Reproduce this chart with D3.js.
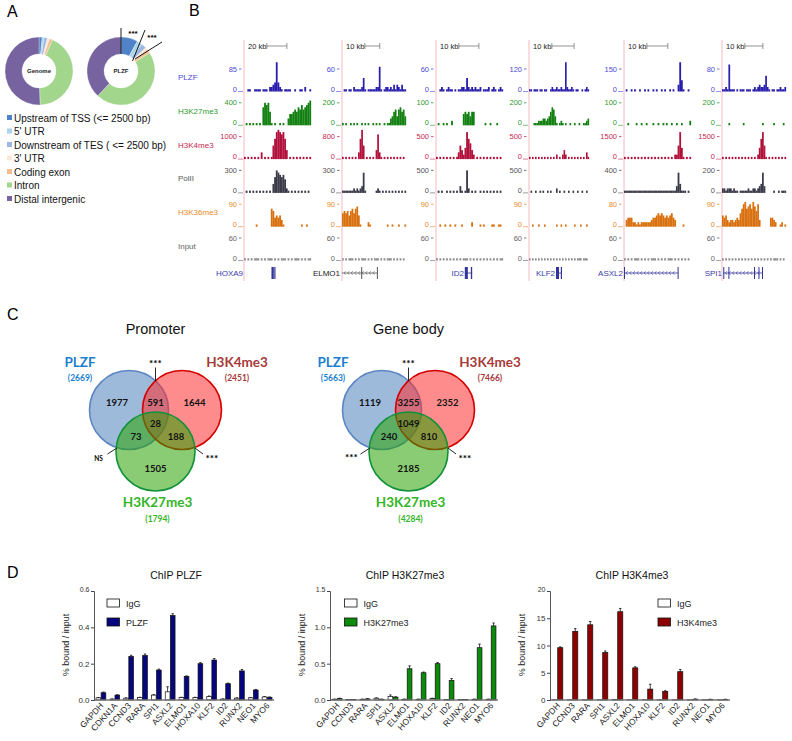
<!DOCTYPE html>
<html><head><meta charset="utf-8">
<script src="https://cdn.jsdelivr.net/npm/d3@7/dist/d3.min.js"></script>
<style>
html,body{margin:0;padding:0;background:#fff;}
svg{display:block;}
</style></head>
<body>
<svg id="fig" width="792" height="741"></svg>
<script>
// ======================= DATA =======================
// Panel A : genomic annotation (% of regions)
const annotCategories = ["Upstream of  TSS (<= 2500 bp)", "5' UTR", "Downstream of TES ( <= 2500 bp)", "3' UTR", "Coding exon", "Intron", "Distal intergenic"];
const genomeShares = [1.5, 1, 1.5, 1, 1.5, 43, 50.5];
const plzfShares   = [8, 2.5, 2.5, 1, 2, 46, 38];

// Panel B : genome browser tracks
const trackNames = ["PLZF", "H3K27me3", "H3K4me3", "PolII", "H3K36me3", "Input"];
const locusGenes = ["HOXA9", "ELMO1", "ID2", "KLF2", "ASXL2", "SPI1"];
const scaleBarKb = [20, 10, 10, 10, 10, 10];
const windowKb   = [67, 43, 33.5, 27, 32, 35.5];
const axisMax_HOXA9 = [85, 400, 1000, 300, 90, 60];
const axisMax_ELMO1 = [60, 200, 800, 300, 90, 60];
const axisMax_ID2   = [60, 100, 500, 500, 90, 60];
const axisMax_KLF2  = [120, 200, 500, 500, 90, 60];
const axisMax_ASXL2 = [150, 100, 1500, 400, 80, 60];
const axisMax_SPI1  = [80, 200, 1500, 200, 90, 60];
// 40 bins per locus; each hex digit = tenths of that track's axis maximum
const signal_HOXA9 = [
  "0011001111011102234D42101111001001102001",
  "010101010108A9A61010010100355676879789AB",
  "1010101010301010169CDCBC9401010101010101",
  "0101010101010101047A98786210101010101010",
  "0000000100000000874545310000000000100100",
  "1010101110101011101010111010101110101011"];
const signal_ELMO1 = [
  "01101102111126101111122B101221213132131 1".replace(/ /g,""),
  "1010010101001010100101010010113467478674",
  "101010101039D601010104B31010101010101010",
  "1111111212123910000001210101010101010101",
  "6767578689510000210000000000100100010001",
  "1010111010101110101011101010111010101010"];
const signal_ID2 = [
  "0012101211010112216212121120111201210121",
  "0100101002000000565646600000010010001000",
  "101010101010136425C974201010101010101010",
  "010100101010103101A201010010101010101010",
  "0010010010010001000002000010100001100110",
  "1010101010101010111010101010101010101011"];
const signal_KLF2 = [
  "110111011011001211211211D211210110010121",
  "0001112223323468741012101001001001001123",
  "1010101010101010102010242010101010101031",
  "0100100101001010002010010010010010010010",
  "0010001000100000001001001000001000100010",
  "1010101010101010101010101010101011101110"];
const signal_ASXL2 = [
  "010010100100101001010010100101003D510010",
  "0010000100100100010010010100100100100002",
  "101010101010101010101010101010226C510101".slice(0,40),
  "1111111111111111111111111111111394111010",
  "0344422121222222344565654545643000010000",
  "1010101110101010111010101011101010101010"];
const signal_SPI1 = [
  "1121C11101011101110121232237210110112112",
  "0000100000000100000000000100000010000010",
  "1010101010101010101010259C61010101010101",
  "2212221211011111211221234930000010010111",
  "5453233234368AB89A8B97A30000004432001201",
  "1010101010101010101010101010101011101010"];
// gene models: fractions of the locus window
const geneModels = [
  {span: null,          arrows: false, blocks: [[0.41, 0.445], [0.452, 0.47]]},
  {span: [0, 0.56],     arrows: true,  blocks: [[0.30, 0.315], [0.545, 0.56]]},
  {span: [0.43, 0.54],  arrows: false, blocks: [[0.43, 0.475], [0.52, 0.54]]},
  {span: [0.45, 0.55],  arrows: false, blocks: [[0.45, 0.50], [0.53, 0.55]]},
  {span: [0, 0.81],     arrows: true,  blocks: [[0, 0.012], [0.80, 0.812]]},
  {span: [0.02, 0.64],  arrows: true,  blocks: [[0.02, 0.035], [0.10, 0.115], [0.50, 0.515], [0.57, 0.585], [0.625, 0.64]]}];

// Panel C : Venn diagrams  (order: A only, AB, B only, ABC, AC, BC, C only)
const vennSets = ["PLZF", "H3K4me3", "H3K27me3"];
const promoterTotals = [2669, 2451, 1794];
const promoterCounts = [1977, 591, 1644, 28, 73, 188, 1505];
const promoterSig    = ["***", "NS", "***"];      // AB, AC, BC
const geneBodyTotals = [5663, 7466, 4284];
const geneBodyCounts = [1119, 3255, 2352, 1049, 240, 810, 2185];
const geneBodySig    = ["***", "***", "***"];

// Panel D : ChIP-qPCR (% bound / input)
const genesPLZF = ["GAPDH","CDKN1A","CCND3","RARA","SPI1","ASXL2","ELMO1","HOXA10","KLF2","ID2","RUNX2","NEO1","MYO6"];
const genesHist = ["GAPDH","CCND3","RARA","SPI1","ASXL2","ELMO1","HOXA10","KLF2","ID2","RUNX2","NEO1","MYO6"];
const plzf_IgG     = [0.012,0.005,0.010,0.013,0.027,0.045,0.013,0.013,0.020,0.005,0.010,0.012,0.017];
const plzf_IgGErr  = [0.002,0.001,0.002,0.002,0.003,0.028,0.002,0.002,0.002,0.001,0.002,0.002,0.002];
const plzf_ChIP    = [0.040,0.027,0.240,0.245,0.165,0.465,0.130,0.200,0.220,0.090,0.160,0.055,0.015];
const plzf_ChIPErr = [0.004,0.002,0.006,0.008,0.005,0.010,0.003,0.006,0.008,0.003,0.008,0.003,0.002];
const k27_IgG      = [0.010,0.005,0.010,0.025,0.050,0.010,0.010,0.020,0.005,0.005,0.010,0.010];
const k27_IgGErr   = [0.003,0.002,0.003,0.005,0.020,0.003,0.003,0.005,0.002,0.002,0.003,0.002];
const k27_ChIP     = [0.020,0.005,0.015,0.010,0.040,0.430,0.375,0.500,0.270,0.005,0.720,1.020];
const k27_ChIPErr  = [0.005,0.002,0.005,0.003,0.005,0.040,0.010,0.015,0.025,0.002,0.050,0.040];
const k4_IgG       = [0.05,0.05,0.05,0.05,0.10,0.05,0.05,0.05,0.05,0.05,0.05,0.05];
const k4_IgGErr    = [0,0,0,0,0,0,0,0,0,0,0,0];
const k4_ChIP      = [9.6,12.6,13.8,8.7,16.2,5.9,2.0,1.6,5.2,0.15,0.10,0.10];
const k4_ChIPErr   = [0.15,0.5,0.6,0.3,0.6,0.2,0.9,0.1,0.4,0.05,0.05,0.05];

// ======================= DRAWING =======================
const svg = d3.select("#fig");
const SANS = '"Liberation Sans", Arial, Helvetica, sans-serif';
const CAL = 'Lato, "Open Sans", sans-serif';

function txt(g, s, x, y, o = {}) {
  const t = g.append("text").attr("x", x).attr("y", y).text(s)
    .attr("font-family", o.family || SANS).attr("font-size", o.size || 10)
    .attr("fill", o.fill || "#000").attr("text-anchor", o.anchor || "start");
  if (o.weight) t.attr("font-weight", o.weight);
  if (o.dy) t.attr("dy", o.dy);
  if (o.rotate !== undefined) t.attr("transform", `rotate(${o.rotate},${x},${y})`);
  return t;
}

// panel letters
[["A", 7, 17], ["B", 189, 16], ["C", 7, 320], ["D", 7, 578]].forEach(([l, x, y]) =>
  txt(svg, l, x, y, {size: 16}));

// ---------- Panel A ----------
const annotColors = ["#4f82c6", "#a9d4ea", "#9db8e0", "#fbe6d9", "#f6bd93", "#a3d68d", "#76639f"];
const pie = d3.pie().sort(null).value(d => d).startAngle(0).endAngle(2 * Math.PI);
const arc = d3.arc().innerRadius(17).outerRadius(34);
[[genomeShares, "Genome", 39], [plzfShares, "PLZF", 121]].forEach(([vals, lab, cx]) => {
  const g = svg.append("g").attr("transform", `translate(${cx},71)`);
  g.selectAll("path").data(pie(vals)).join("path").attr("d", arc)
    .attr("fill", (d, i) => annotColors[i]).attr("stroke", "#fff").attr("stroke-width", 0.3);
  txt(g, lab, 0, 0, {size: 6, weight: "bold", anchor: "middle", dy: "0.35em", fill: "#222"});
});
const starA = svg.append("g").attr("stroke", "#000").attr("stroke-width", 0.9);
starA.append("line").attr("x1", 121).attr("y1", 28).attr("x2", 121).attr("y2", 54);
starA.append("line").attr("x1", 145).attr("y1", 30).attr("x2", 132.5).attr("y2", 61);
starA.append("line").attr("x1", 162).attr("y1", 42).attr("x2", 135).attr("y2", 59);
txt(svg, "***", 133, 36, {size: 8, weight: "bold", anchor: "middle"});
txt(svg, "***", 152, 40, {size: 8, weight: "bold", anchor: "middle"});
annotCategories.forEach((c, i) => {
  const y = 118 + 13.5 * i;
  svg.append("rect").attr("x", 7).attr("y", y - 3).attr("width", 5).attr("height", 5).attr("fill", annotColors[i]);
  txt(svg, c, 14, y + 3.6, {size: 10, fill: "#111"});
});

// ---------- Panel B ----------
const colX = [244, 342, 436, 529, 624, 722];
const colW = [67, 64, 67, 60, 67, 64];
const trackColors = ["#2a1fac", "#138012", "#b1123c", "#3a3a49", "#d9700f", "#8c8c8c"];
const tickColors  = ["#4b4bd2", "#2f9a2f", "#c72a4d", "#555", "#e88a29", "#666"];
const geneLabelColors = ["#3b3ba8", "#222", "#3b3ba8", "#3b3ba8", "#3b3ba8", "#3b3ba8"];
const geneLabelX = [243, 340, 464, 555, 623, 722];
const axisMaxes = [axisMax_HOXA9, axisMax_ELMO1, axisMax_ID2, axisMax_KLF2, axisMax_ASXL2, axisMax_SPI1];
const signals = [signal_HOXA9, signal_ELMO1, signal_ID2, signal_KLF2, signal_ASXL2, signal_SPI1];
const trackTop = t => 69 + 33.8 * t;
const trackZero = t => trackTop(t) + 22.5;

trackNames.forEach((n, t) => txt(svg, n, 178, trackTop(t) + 11, {size: 8, fill: tickColors[t]}));

locusGenes.forEach((gene, c) => {
  const g = svg.append("g");
  const x0 = colX[c], x1 = colX[c] + colW[c];
  g.append("line").attr("x1", x0).attr("x2", x0).attr("y1", 40).attr("y2", 281)
    .attr("stroke", "#f6b8c4").attr("stroke-width", 1);
  const kb = d3.scaleLinear().domain([0, windowKb[c]]).range([x0, x1]);
  const lab = txt(g, scaleBarKb[c] + " kb", x0 + 4, 49, {size: 7.5, fill: "#222"});
  const bx = x0 + 4 + lab.node().getComputedTextLength() + 0.5;
  const bx2 = bx + (kb(scaleBarKb[c]) - x0);
  g.append("path").attr("d", `M${bx},43V49M${bx},46H${bx2}M${bx2},43V49`)
    .attr("stroke", "#777").attr("fill", "none").attr("stroke-width", 0.8);
  const xb = d3.scaleBand().domain(d3.range(40)).range([x0, x1]).padding(0);
  signals[c].forEach((s, t) => {
    const mx = axisMaxes[c][t];
    const y = d3.scaleLinear().domain([0, mx]).range([trackZero(t), trackTop(t)]);
    const vals = s.split("").map(ch => parseInt(ch, 16) / 10 * mx);
    g.selectAll(null).data(vals.map((v, i) => ({v, i})).filter(d => d.v > 0)).join("rect")
      .attr("x", d => xb(d.i)).attr("width", xb.bandwidth() + 0.15)
      .attr("y", d => y(d.v)).attr("height", d => trackZero(t) - y(d.v))
      .attr("fill", trackColors[t]);
    txt(g, mx, x0 - 7, y(mx) + 2.6, {size: 7.5, anchor: "end", fill: tickColors[t]});
    g.append("line").attr("x1", x0 - 5).attr("x2", x0 - 2.5).attr("y1", y(mx)).attr("y2", y(mx))
      .attr("stroke", tickColors[t]).attr("stroke-width", 0.8);
    txt(g, 0, x0 - 7, y(0), {size: 7.5, anchor: "end", fill: tickColors[t]});
    g.append("line").attr("x1", x0 - 6).attr("x2", x0 - 1).attr("y1", y(0)).attr("y2", y(0))
      .attr("stroke", tickColors[t]).attr("stroke-width", 0.6);
  });
  const gm = geneModels[c];
  const fx = d3.scaleLinear().domain([0, 1]).range([x0, x1]);
  const gy = 273, gcol = c === 1 ? "#555" : "#33339a";
  if (gm.span) {
    g.append("line").attr("x1", fx(gm.span[0])).attr("x2", fx(gm.span[1])).attr("y1", gy).attr("y2", gy)
      .attr("stroke", gcol).attr("stroke-width", 0.8);
    if (gm.arrows) {
      for (let ax = fx(gm.span[0]) + 2; ax < fx(gm.span[1]) - 2; ax += 3.6) {
        g.append("path").attr("d", `M${ax + 1.6},${gy - 1.8}L${ax},${gy}L${ax + 1.6},${gy + 1.8}`)
          .attr("fill", "none").attr("stroke", gcol).attr("stroke-width", 0.6);
      }
    }
  }
  gm.blocks.forEach(b => {
    g.append("rect").attr("x", fx(b[0])).attr("width", Math.max(1, fx(b[1]) - fx(b[0])))
      .attr("y", gy - 6).attr("height", 12).attr("fill", gcol);
  });
  txt(g, gene, geneLabelX[c], gy + 3, {size: 8, anchor: "end", fill: geneLabelColors[c]});
});

// ---------- Panel C ----------
function venn(cx, title, totals, counts, sig) {
  const g = svg.append("g");
  txt(g, title, cx, 334, {size: 14.5, anchor: "middle", fill: "#111"});
  const circ = [
    {x: cx - 26.5, y: 410, fill: "#4f81bd", stroke: "#5b86c2"},
    {x: cx + 26.5, y: 410, fill: "#ff2e2e", stroke: "#d40000"},
    {x: cx, y: 451.5, fill: "#28a300", stroke: "#10923a"}];
  circ.forEach(c => g.append("circle").attr("cx", c.x).attr("cy", c.y).attr("r", 39.5)
    .attr("fill", c.fill).attr("fill-opacity", 0.55).attr("stroke", c.stroke).attr("stroke-width", 1.6));
  const pos = [[-38.5, 403], [0, 403], [39, 403], [0, 424], [-19.5, 437], [20.5, 437], [0, 469]];
  counts.forEach((v, i) => txt(g, v, cx + pos[i][0], pos[i][1] + 3.3,
    {size: 9.5, weight: "bold", anchor: "middle", family: CAL, fill: "#111"}));
  const setCols = ["#1b7fd0", "#a63a3a", "#34b526"];
  const lp = [[-75.5, 366.5, 380.5], [81.5, 366.5, 380.5], [2, 507, 521.5]];
  vennSets.forEach((s, i) => {
    txt(g, s, cx + lp[i][0], lp[i][1], {size: 13.5, weight: "bold", anchor: "middle", family: CAL, fill: setCols[i]});
    txt(g, "(" + totals[i] + ")", cx + lp[i][0], lp[i][2], {size: 8.5, weight: "bold", anchor: "middle", family: CAL, fill: setCols[i]});
  });
  const ln = (a, b, c2, d) => g.append("line").attr("x1", a).attr("y1", b).attr("x2", c2).attr("y2", d)
    .attr("stroke", "#111").attr("stroke-width", 0.9);
  ln(cx, 367.5, cx, 381);
  txt(g, sig[0], cx, 367, {size: 10, weight: "bold", anchor: "middle", family: CAL});
  ln(cx - 48, 454, cx - 38.5, 448);
  txt(g, sig[1], cx - 57, 461, {size: sig[1] === "NS" ? 6.5 : 10, weight: "bold", anchor: "middle", family: CAL});
  ln(cx + 39.5, 448, cx + 47.5, 454);
  txt(g, sig[2], cx + 56.5, 462, {size: 10, weight: "bold", anchor: "middle", family: CAL});
}
venn(155.5, "Promoter", promoterTotals, promoterCounts, promoterSig);
venn(408.5, "Gene body", geneBodyTotals, geneBodyCounts, geneBodySig);

// ---------- Panel D ----------
function barChart(o) {
  const g = svg.append("g");
  const x = d3.scaleBand().domain(o.cats).range(o.xr).padding(0);
  const y = d3.scaleLinear().domain(o.yd).range([700, 591]);
  const bw = x.bandwidth() * 0.34;
  txt(g, o.title, o.titleX, 578.5, {size: 10.5, anchor: "middle", fill: "#111"});
  const draw = (vals, errs, dx, fill) => {
    o.cats.forEach((c, i) => {
      const cxb = x(c) + x.bandwidth() / 2 + dx;
      g.append("rect").attr("x", cxb - bw / 2).attr("width", bw)
        .attr("y", y(vals[i])).attr("height", 700 - y(vals[i]))
        .attr("fill", fill).attr("stroke", "#111").attr("stroke-width", 0.7);
      if (errs[i] > 0) {
        const yt = y(vals[i] + errs[i]);
        g.append("path").attr("d", `M${cxb},${y(vals[i])}V${yt}M${cxb - 1.2},${yt}H${cxb + 1.2}`)
          .attr("stroke", "#111").attr("stroke-width", 0.8).attr("fill", "none");
      }
    });
  };
  draw(o.igg, o.iggErr, -bw / 2 - 0.2, "#fff");
  draw(o.chip, o.chipErr, bw / 2 + 0.2, o.color);
  g.append("line").attr("x1", o.xr[0]).attr("x2", o.xr[1]).attr("y1", 700).attr("y2", 700)
    .attr("stroke", "#777").attr("stroke-width", 1.3);
  const ax = g.append("g").attr("transform", `translate(${o.xr[0]},0)`)
    .call(d3.axisLeft(y).tickValues(o.ticks).tickFormat(o.fmt).tickSize(3).tickSizeOuter(3));
  ax.select(".domain").attr("stroke", "#444").attr("stroke-width", 0.9);
  ax.selectAll(".tick line").attr("stroke", "#444");
  ax.selectAll(".tick text").attr("font-family", SANS).attr("font-size", 8).attr("fill", "#333").attr("x", -4.5);
  ax.selectAll(".tick").filter(d => d === o.yd[1]).select("text").attr("font-size", 7).attr("dy", "0.05em");
  o.cats.forEach(c => {
    const cx = x(c) + x.bandwidth() / 2 + 3;
    txt(g, c, cx, 706, {size: 8.5, anchor: "end", rotate: -48, fill: "#222"});
  });
  txt(g, "% bound / input", o.xr[0] - 25.5, 645, {size: 9, anchor: "middle", rotate: -90, fill: "#222"});
  [["IgG", "#fff"], [o.name, o.color]].forEach(([n, f], i) => {
    g.append("rect").attr("x", o.legX).attr("y", 599 + i * 19).attr("width", 12.5).attr("height", 8)
      .attr("fill", f).attr("stroke", "#111").attr("stroke-width", 0.8);
    txt(g, n, o.legX + 19, 606.5 + i * 19, {size: 9, fill: "#222"});
  });
}
barChart({cats: genesPLZF, xr: [94, 274], yd: [0, 0.6], ticks: [0, 0.2, 0.4, 0.6], fmt: d3.format(".1f"),
  igg: plzf_IgG, iggErr: plzf_IgGErr, chip: plzf_ChIP, chipErr: plzf_ChIPErr, color: "#06067e",
  title: "ChIP PLZF", titleX: 176, name: "PLZF", legX: 107});
barChart({cats: genesHist, xr: [330, 498], yd: [0, 1.5], ticks: [0, 0.5, 1, 1.5], fmt: d3.format(".1f"),
  igg: k27_IgG, iggErr: k27_IgGErr, chip: k27_ChIP, chipErr: k27_ChIPErr, color: "#0b8a0b",
  title: "ChIP H3K27me3", titleX: 405, name: "H3K27me3", legX: 344.5});
barChart({cats: genesHist, xr: [550, 730], yd: [0, 20], ticks: [0, 5, 10, 15, 20], fmt: d3.format("d"),
  igg: k4_IgG, iggErr: k4_IgGErr, chip: k4_ChIP, chipErr: k4_ChIPErr, color: "#8e0000",
  title: "ChIP H3K4me3", titleX: 632, name: "H3K4me3", legX: 658});
</script>
</body></html>
